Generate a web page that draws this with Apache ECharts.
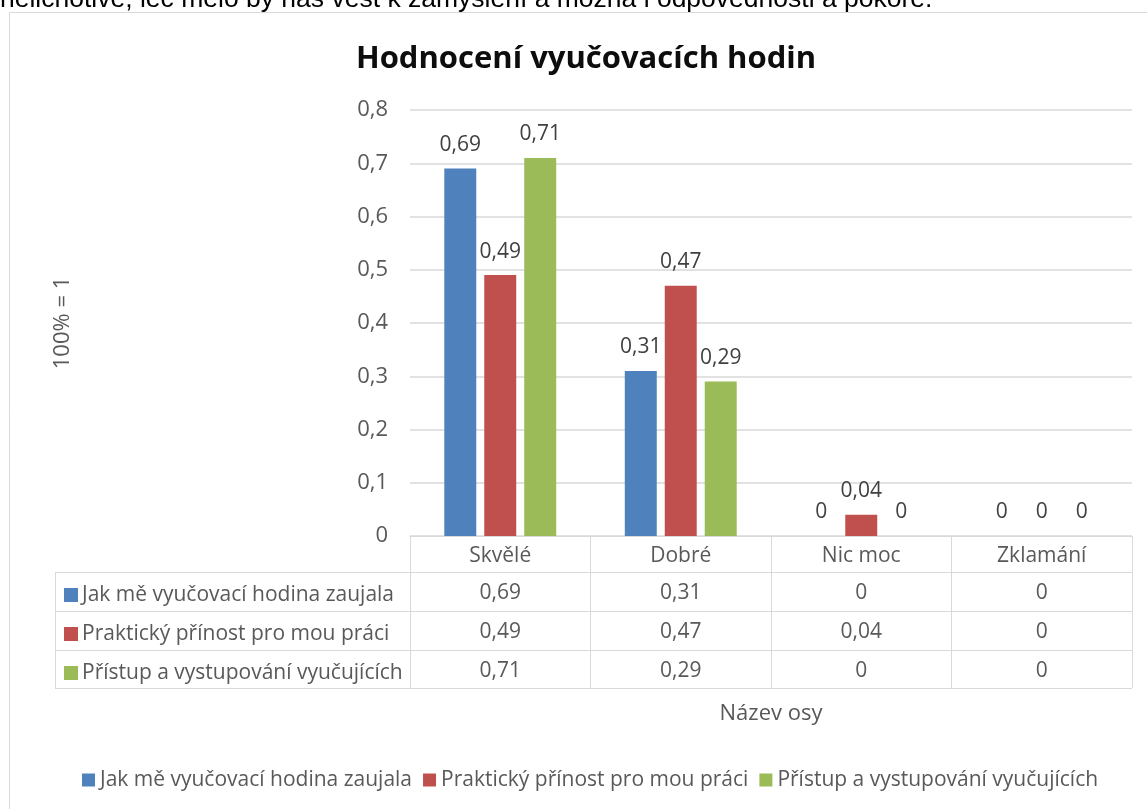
<!DOCTYPE html>
<html>
<head>
<meta charset="utf-8">
<script src="https://cdn.jsdelivr.net/npm/echarts@6/dist/echarts.min.js"></script>
<style>
  html, body { margin: 0; padding: 0; background: #fff; }
  #chart { width: 1147px; height: 809px; }
</style>
</head>
<body>
<div id="chart"></div>
<script>
// data
var categories = ['Skvělé', 'Dobré', 'Nic moc', 'Zklamání']
var seriesNames = ['Jak mě vyučovací hodina zaujala', 'Praktický přínost pro mou práci', 'Přístup a vystupování vyučujících']
var zaujala = [0.69, 0.31, 0, 0]
var prinos = [0.49, 0.47, 0.04, 0]
var pristup = [0.71, 0.29, 0, 0]
var colors = ['#4f81bd', '#c0504d', '#9bbb59']

var font = '"Open Sans"'
var grey = '#595959'
var lineGrey = '#d9d9d9'

// cislo s desetinnou carkou
function fmt(v) {
  if (v === 0) return '0'
  return String(v).replace('.', ',')
}
function fmtAxis(v) {
  if (v === 0) return '0'
  return v.toFixed(1).replace('.', ',')
}

var allData = [zaujala, prinos, pristup]

var series = allData.map(function (d, i) {
  return {
    name: seriesNames[i],
    type: 'bar',
    data: d,
    barGap: '25%',
    barCategoryGap: '38%',
    itemStyle: { color: colors[i] },
    label: {
      show: true,
      position: 'top',
      distance: 13,
      fontFamily: font,
      fontSize: 21,
      color: '#404040',
      formatter: function (p) { return fmt(p.value) }
    }
  }
})

var chart = echarts.init(document.getElementById('chart'))

var option = {
  animation: false,
  title: {
    text: 'Hodnocení vyučovacích hodin',
    left: 581,
    textAlign: 'center',
    top: 39,
    textStyle: { fontFamily: font, fontSize: 31, fontWeight: 'bold', color: '#0d0d0d' }
  },
  legend: [
    {
      // legenda v tabulce
      orient: 'vertical',
      left: 64,
      top: 584,
      padding: 0,
      itemWidth: 14,
      itemHeight: 14,
      itemGap: 17,
      selectedMode: false,
      icon: 'rect',
      data: seriesNames,
      textStyle: { fontFamily: font, fontSize: 21, color: grey, lineHeight: 22, padding: [0, 0, 0, -1] }
    },
    {
      orient: 'horizontal',
      left: 82,
      top: 769,
      padding: 0,
      itemWidth: 13,
      itemHeight: 13,
      itemGap: 11,
      selectedMode: false,
      icon: 'rect',
      data: seriesNames,
      textStyle: { fontFamily: font, fontSize: 21, color: grey, lineHeight: 22 }
    }
  ],
  grid: { left: 410, right: 15, top: 110, bottom: 273, containLabel: false },
  xAxis: {
    type: 'category',
    data: categories,
    name: 'Název osy',
    nameLocation: 'middle',
    nameGap: 167,
    nameTextStyle: { fontFamily: font, fontSize: 22, color: grey },
    axisLine: { lineStyle: { color: lineGrey, width: 1 } },
    axisTick: { show: true, length: 152, interval: 0, lineStyle: { color: lineGrey, width: 1 } },
    axisLabel: {
      interval: 0,
      margin: 2,
      formatter: function (val, idx) {
        var s = '{c|' + val + '}'
        allData.forEach(function (d) { s += '\n{v|' + fmt(d[idx]) + '}' })
        return s
      },
      rich: {
        c: { fontFamily: font, fontSize: 21, color: grey, lineHeight: 36 },
        v: { fontFamily: font, fontSize: 21, color: grey, lineHeight: 39 }
      }
    }
  },
  yAxis: {
    type: 'value',
    min: 0,
    max: 0.8,
    interval: 0.1,
    name: '100% = 1',
    nameLocation: 'middle',
    nameRotate: 90,
    nameGap: 336,
    nameTextStyle: { fontFamily: font, fontSize: 22, color: grey },
    axisLine: { show: false },
    axisTick: { show: false },
    axisLabel: { margin: 22, fontFamily: font, fontSize: 22, color: grey, formatter: fmtAxis },
    splitLine: { lineStyle: { color: lineGrey, width: 1.5 } }
  },
  graphic: [
    // okraj grafu
    { type: 'rect', shape: { x: 9.5, y: 12.5, width: 1160, height: 820 }, style: { fill: null, stroke: lineGrey, lineWidth: 1 }, silent: true },
    // oriznuty text nad grafem
    { type: 'text', x: 0, y: 0, style: { text: 'nelichotivé, leč mělo by nás vést k zamyšlení a možná i odpovědnosti a pokoře.', font: '26.5px "Liberation Sans"', fill: '#000', verticalAlign: 'middle' }, silent: true },
    // tabulka - vodorovne cary
    { type: 'line', shape: { x1: 55, y1: 572.5, x2: 1132, y2: 572.5 }, style: { stroke: lineGrey, lineWidth: 1 } },
    { type: 'line', shape: { x1: 55, y1: 611.5, x2: 1132, y2: 611.5 }, style: { stroke: lineGrey, lineWidth: 1 } },
    { type: 'line', shape: { x1: 55, y1: 650.5, x2: 1132, y2: 650.5 }, style: { stroke: lineGrey, lineWidth: 1 } },
    { type: 'line', shape: { x1: 55, y1: 688.5, x2: 1132, y2: 688.5 }, style: { stroke: lineGrey, lineWidth: 1 } },
    { type: 'line', shape: { x1: 55.5, y1: 572, x2: 55.5, y2: 689 }, style: { stroke: lineGrey, lineWidth: 1 } }
  ],
  series: series
}

chart.setOption(option)
</script>
</body>
</html>
